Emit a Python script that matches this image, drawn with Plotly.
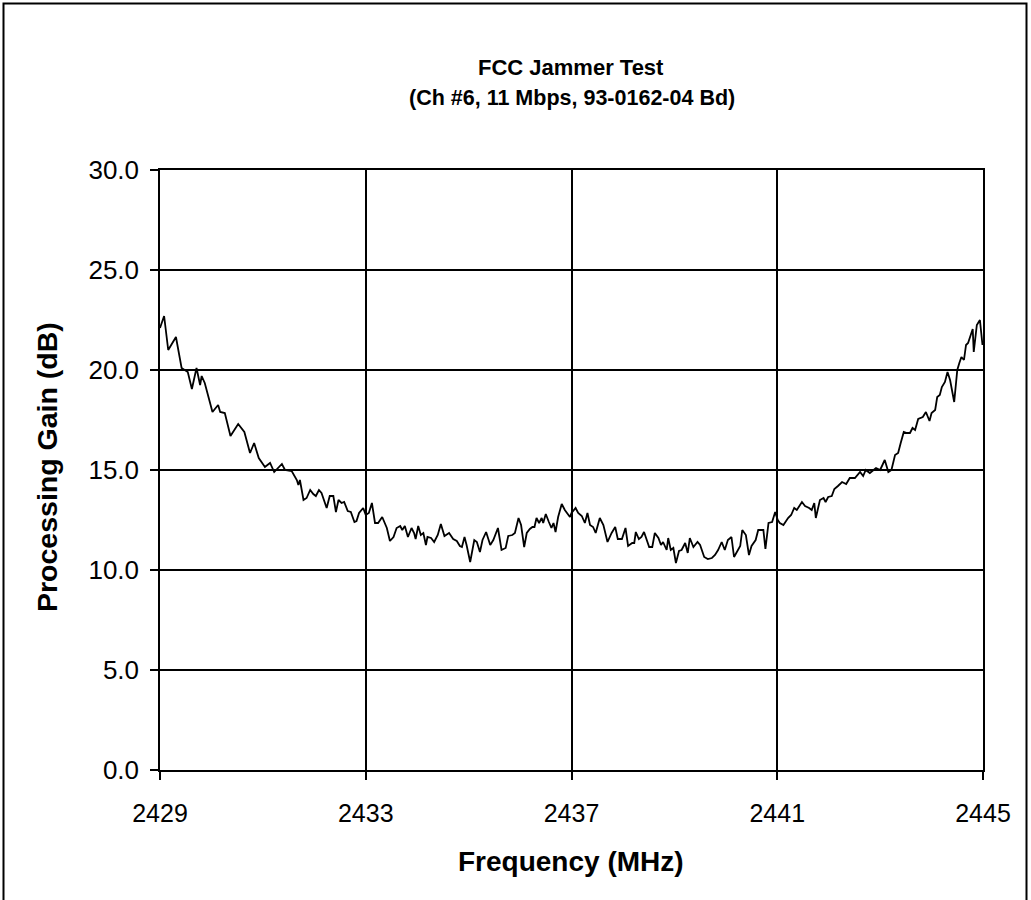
import plotly.graph_objects as go

freq_mhz = [
    2429.00, 2429.08, 2429.16, 2429.31, 2429.42, 2429.54, 2429.62, 2429.71, 2429.78, 2429.81,
    2429.87, 2430.02, 2430.13, 2430.17, 2430.26, 2430.37, 2430.52, 2430.64, 2430.75, 2430.83,
    2430.92, 2431.04, 2431.14, 2431.22, 2431.37, 2431.43, 2431.56, 2431.66, 2431.69, 2431.72,
    2431.79, 2431.85, 2431.92, 2431.98, 2432.03, 2432.09, 2432.14, 2432.24, 2432.30, 2432.37,
    2432.42, 2432.47, 2432.53, 2432.58, 2432.65, 2432.71, 2432.78, 2432.82, 2432.87, 2432.95,
    2433.00, 2433.06, 2433.12, 2433.18, 2433.24, 2433.32, 2433.41, 2433.47, 2433.54, 2433.60,
    2433.67, 2433.71, 2433.76, 2433.82, 2433.89, 2433.94, 2433.97, 2434.02, 2434.07, 2434.12,
    2434.17, 2434.20, 2434.27, 2434.33, 2434.40, 2434.46, 2434.53, 2434.62, 2434.70, 2434.77,
    2434.83, 2434.87, 2434.92, 2434.96, 2435.03, 2435.11, 2435.16, 2435.22, 2435.27, 2435.34,
    2435.42, 2435.48, 2435.57, 2435.64, 2435.72, 2435.77, 2435.85, 2435.90, 2435.97, 2436.02,
    2436.08, 2436.13, 2436.19, 2436.24, 2436.28, 2436.32, 2436.37, 2436.42, 2436.45, 2436.50,
    2436.56, 2436.61, 2436.65, 2436.69, 2436.74, 2436.81, 2436.87, 2436.97, 2437.00, 2437.08,
    2437.13, 2437.20, 2437.26, 2437.31, 2437.36, 2437.42, 2437.47, 2437.55, 2437.62, 2437.70,
    2437.78, 2437.85, 2437.90, 2437.98, 2438.05, 2438.10, 2438.18, 2438.22, 2438.25, 2438.31,
    2438.36, 2438.41, 2438.51, 2438.57, 2438.62, 2438.69, 2438.74, 2438.78, 2438.85, 2438.88,
    2438.93, 2438.98, 2439.03, 2439.09, 2439.14, 2439.21, 2439.26, 2439.30, 2439.37, 2439.45,
    2439.50, 2439.58, 2439.65, 2439.73, 2439.79, 2439.85, 2439.92, 2439.98, 2440.04, 2440.11,
    2440.16, 2440.23, 2440.28, 2440.32, 2440.39, 2440.45, 2440.50, 2440.58, 2440.63, 2440.73,
    2440.77, 2440.83, 2440.90, 2440.96, 2441.01, 2441.05, 2441.12, 2441.21, 2441.27, 2441.33,
    2441.38, 2441.48, 2441.54, 2441.62, 2441.67, 2441.72, 2441.75, 2441.83, 2441.90, 2441.94,
    2441.99, 2442.06, 2442.11, 2442.18, 2442.26, 2442.34, 2442.41, 2442.51, 2442.61, 2442.67,
    2442.72, 2442.80, 2442.92, 2443.00, 2443.09, 2443.16, 2443.22, 2443.29, 2443.35, 2443.40,
    2443.46, 2443.52, 2443.58, 2443.63, 2443.68, 2443.74, 2443.83, 2443.89, 2443.96, 2444.00,
    2444.07, 2444.11, 2444.16, 2444.20, 2444.26, 2444.31, 2444.36, 2444.44, 2444.50, 2444.54,
    2444.58, 2444.63, 2444.67, 2444.71, 2444.75, 2444.80, 2444.82, 2444.88, 2444.94, 2444.99,
]

gain_db = [
    22.1, 22.7, 21.0, 21.65, 20.1, 19.9, 19.05, 20.1, 19.25, 19.7,
    19.35, 17.9, 18.25, 17.9, 17.85, 16.7, 17.3, 16.9, 15.85, 16.35,
    15.6, 15.15, 15.35, 14.9, 15.3, 15.0, 14.95, 14.5, 14.25, 14.5,
    13.5, 13.6, 14.0, 13.8, 13.7, 14.0, 13.85, 13.1, 13.7, 13.7,
    12.9, 13.5, 13.35, 13.4, 12.95, 12.9, 12.4, 12.45, 12.85, 13.1,
    12.75, 12.85, 13.35, 12.35, 12.35, 12.65, 12.1, 11.45, 11.65, 12.1,
    12.2, 12.0, 12.2, 11.65, 12.1, 11.85, 11.55, 12.2, 11.75, 11.85,
    11.25, 11.65, 11.6, 11.4, 11.75, 12.3, 11.7, 11.85, 11.55, 11.45,
    11.2, 11.15, 11.65, 11.25, 10.4, 11.5, 11.4, 10.9, 11.5, 11.9,
    11.25, 11.5, 12.1, 11.0, 11.1, 11.7, 11.75, 11.85, 12.6, 12.25,
    11.15, 11.85, 12.05, 12.15, 12.15, 12.6, 12.35, 12.6, 12.35, 12.8,
    12.4, 12.1, 12.35, 11.9, 12.65, 13.3, 13.0, 12.65, 12.85, 13.1,
    12.85, 12.7, 12.35, 12.85, 12.25, 12.15, 11.85, 12.6, 12.25, 11.4,
    11.85, 12.15, 11.55, 11.55, 12.1, 11.2, 11.35, 11.35, 11.9, 11.55,
    11.65, 11.9, 11.15, 11.15, 11.85, 11.6, 11.25, 11.4, 11.0, 11.6,
    11.0, 11.1, 10.35, 10.95, 11.0, 11.35, 10.85, 11.6, 11.15, 11.4,
    11.25, 10.65, 10.55, 10.6, 10.75, 11.0, 11.4, 11.0, 11.5, 11.65,
    10.65, 11.0, 11.2, 12.0, 11.75, 10.75, 11.2, 11.5, 12.0, 12.0,
    11.05, 12.35, 12.4, 12.9, 12.5, 12.35, 12.25, 12.6, 12.75, 13.1,
    13.0, 13.4, 13.2, 13.1, 13.0, 13.35, 12.6, 13.5, 13.6, 13.4,
    13.65, 13.7, 14.05, 14.2, 14.4, 14.3, 14.6, 14.6, 14.9, 14.7,
    15.0, 14.85, 15.1, 15.0, 15.5, 14.9, 15.0, 15.75, 15.85, 16.35,
    16.9, 16.85, 16.85, 17.1, 17.0, 17.55, 17.65, 17.9, 17.45, 17.85,
    18.0, 18.65, 18.75, 19.15, 19.4, 19.9, 19.5, 18.4, 20.0, 20.35,
    20.65, 20.5, 21.25, 21.35, 21.65, 22.05, 20.9, 22.25, 22.5, 21.25,
]

x_ticks = [2429, 2433, 2437, 2441, 2445]
y_ticks = [0, 5, 10, 15, 20, 25, 30]
y_tick_labels = ["0.0", "5.0", "10.0", "15.0", "20.0", "25.0", "30.0"]

title_line1 = "FCC Jammer Test"
title_line2 = "(Ch #6, 11 Mbps, 93-0162-04 Bd)"
x_title = "Frequency (MHz)"
y_title = "Processing Gain (dB)"

FONT = "Liberation Sans, Arial, sans-serif"

# plot area in pixels: x 160..983, y 170..770
PL, PR, PT, PB = 160, 983, 170, 770
PW, PH = PR - PL, PB - PT


def px(x):
    return (x - PL) / PW


def py(y):
    return (PB - y) / PH


fig = go.Figure()
fig.add_trace(go.Scatter(
    x=freq_mhz, y=gain_db, mode="lines",
    line=dict(color="black", width=1.8), showlegend=False, hoverinfo="x+y",
))

fig.update_layout(
    width=1031, height=900,
    margin=dict(l=PL, r=1031 - PR, t=PT, b=900 - PB),
    paper_bgcolor="white", plot_bgcolor="white",
    font=dict(family=FONT, color="black"),
    showlegend=False,
    annotations=[
        dict(text="<b>" + title_line1 + "</b>", xref="paper", yref="paper",
             x=px(571), y=py(67), xanchor="center", yanchor="middle", showarrow=False,
             font=dict(size=22, family=FONT, color="black")),
        dict(text="<b>" + title_line2 + "</b>", xref="paper", yref="paper",
             x=px(572), y=py(98), xanchor="center", yanchor="middle", showarrow=False,
             font=dict(size=21.5, family=FONT, color="black")),
        dict(text="<b>" + x_title + "</b>", xref="paper", yref="paper",
             x=px(571), y=py(861), xanchor="center", yanchor="middle",
             showarrow=False, font=dict(size=28, family=FONT, color="black")),
        dict(text="<b>" + y_title + "</b>", xref="paper", yref="paper",
             x=px(47), y=py(467), xanchor="center", yanchor="middle",
             textangle=-90, showarrow=False, font=dict(size=28.5, family=FONT, color="black")),
    ],
    shapes=[
        dict(type="rect", xref="paper", yref="paper",
             x0=px(3.5), x1=px(1026.5), y0=py(930), y1=py(3.5),
             line=dict(color="black", width=2), fillcolor="rgba(0,0,0,0)", layer="below"),
    ],
)

fig.update_xaxes(
    range=[2429, 2445], tickmode="array", tickvals=x_ticks,
    ticks="outside", ticklen=8, tickcolor="black", tickwidth=1.5,
    showgrid=True, gridcolor="black", gridwidth=1.5,
    showline=True, linecolor="black", linewidth=1.5, mirror=True,
    zeroline=False, tickfont=dict(size=25, family=FONT, color="black"),
    ticklabelstandoff=12,
)
fig.update_yaxes(
    range=[0, 30], tickmode="array", tickvals=y_ticks, ticktext=y_tick_labels,
    ticks="outside", ticklen=8, tickcolor="black", tickwidth=1.5,
    showgrid=True, gridcolor="black", gridwidth=1.5,
    showline=True, linecolor="black", linewidth=1.5, mirror=True,
    zeroline=False, tickfont=dict(size=26, family=FONT, color="black"),
    ticklabelstandoff=6,
)

fig.write_html(
    "out.html",
    config={"displayModeBar": False},
    post_script="document.body.style.margin='0';document.body.style.overflow='hidden';",
)
